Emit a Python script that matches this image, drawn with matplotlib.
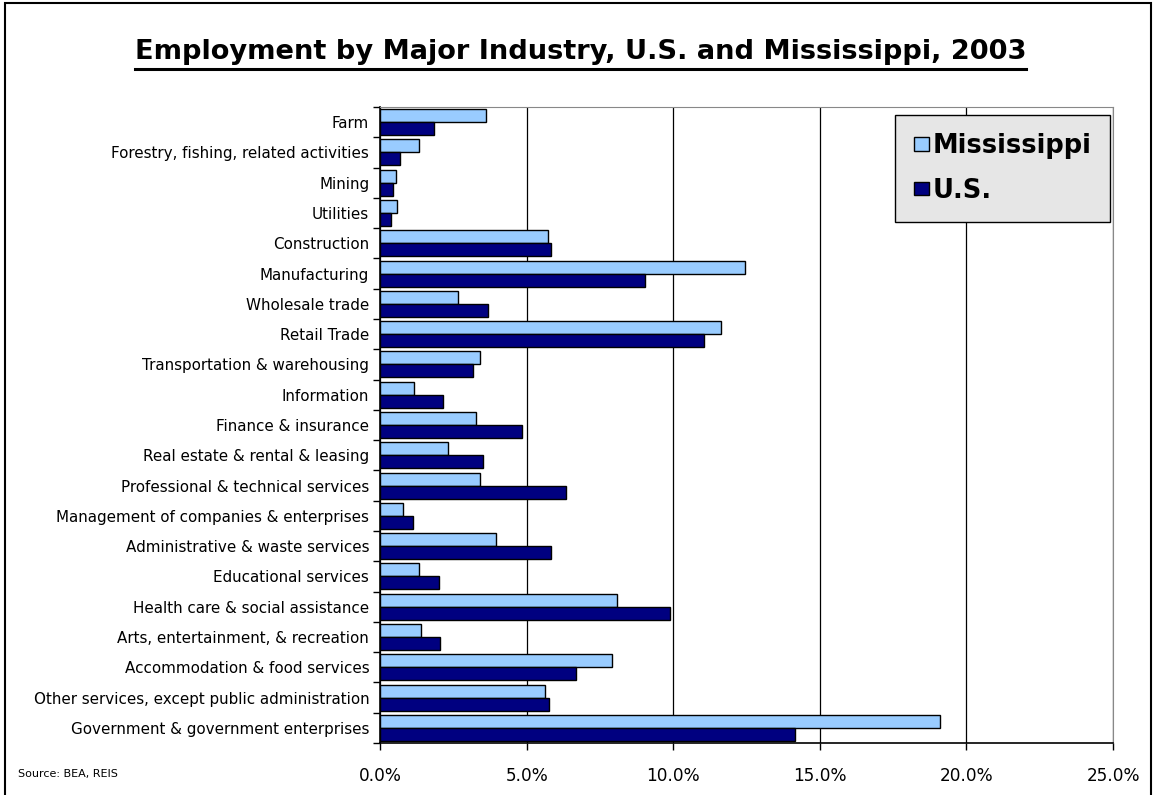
import numpy as np
import matplotlib.pyplot as plt
from matplotlib.patches import Rectangle
from matplotlib.ticker import FuncFormatter, FixedLocator

industries = ["Farm", "Forestry, fishing, related activities", "Mining", "Utilities",
              "Construction", "Manufacturing", "Wholesale trade", "Retail Trade",
              "Transportation & warehousing", "Information", "Finance & insurance",
              "Real estate & rental & leasing", "Professional & technical services",
              "Management of companies & enterprises", "Administrative & waste services",
              "Educational services", "Health care & social assistance",
              "Arts, entertainment, & recreation", "Accommodation & food services",
              "Other services, except public administration",
              "Government & government enterprises"]
# shares of total employment, percent
mississippi = [3.61, 1.32, 0.53, 0.56, 5.72, 12.45, 2.64, 11.63, 3.40, 1.14, 3.27,
               2.31, 3.41, 0.78, 3.94, 1.31, 8.08, 1.38, 7.92, 5.61, 19.11]
us = [1.83, 0.66, 0.45, 0.37, 5.82, 9.04, 3.68, 11.04, 3.18, 2.14, 4.82,
      3.52, 6.33, 1.11, 5.81, 2.00, 9.88, 2.05, 6.67, 5.75, 14.14]
xticks = [0, 5, 10, 15, 20, 25]

fig = plt.figure(figsize=(11.54, 7.95), dpi=100)
ax = fig.add_axes([0.3295, 0.0654, 0.635, 0.80])

n = len(industries)
pos = np.arange(n)
h = 0.43
ax.barh(pos - h / 2, mississippi, height=h, color="#99ccff", edgecolor="black",
        linewidth=1, label="Mississippi", zorder=3)
ax.barh(pos + h / 2, us, height=h, color="#000080", edgecolor="black",
        linewidth=1, label="U.S.", zorder=3)

ax.set_ylim(n - 0.5, -0.5)
ax.set_xlim(0, 25)
ax.set_yticks(pos)
ax.set_yticklabels(industries, fontsize=10.9)
ax.yaxis.set_minor_locator(FixedLocator(np.arange(n + 1) - 0.5))
ax.tick_params(axis="y", which="major", length=0, pad=8)
ax.tick_params(axis="y", which="minor", length=5, width=1, direction="out")
ax.set_xticks(xticks)
ax.xaxis.set_major_formatter(FuncFormatter(lambda v, p: f"{v:.1f}%"))
ax.tick_params(axis="x", labelsize=12.2, length=5, width=1, pad=12)
ax.grid(axis="x", color="black", linewidth=0.9, zorder=0)

for side in ["top", "right"]:
    ax.spines[side].set_color("#888888")
for side in ["left", "bottom"]:
    ax.spines[side].set_color("black")
    ax.spines[side].set_linewidth(1.2)

leg = ax.legend(loc="upper right", bbox_to_anchor=(0.9965, 0.988),
                prop={"weight": "bold", "size": 18.5}, frameon=True, fancybox=False,
                facecolor="#e6e6e6", edgecolor="black", framealpha=1,
                handlelength=0.6, handleheight=0.45, handletextpad=0.15,
                labelspacing=0.72, borderpad=0.72, borderaxespad=0)
leg.get_frame().set_linewidth(1)
leg.set_zorder(5)

title = fig.text(0.503, 0.9346, "Employment by Major Industry, U.S. and Mississippi, 2003",
                 ha="center", va="center", fontsize=19.6, fontweight="bold")
fig.canvas.draw()
bb = title.get_window_extent().transformed(fig.transFigure.inverted())
fig.add_artist(plt.Line2D([bb.x0, bb.x1], [0.9135, 0.9135],
                          color="black", linewidth=2.2, transform=fig.transFigure))

fig.text(0.0156, 0.027, "Source: BEA, REIS", fontsize=8, ha="left", va="center")

fig.add_artist(Rectangle((0.004, -0.01), 0.993, 1.006, transform=fig.transFigure,
                         fill=False, edgecolor="black", linewidth=1.5))

fig.savefig("out.png", dpi=100)
